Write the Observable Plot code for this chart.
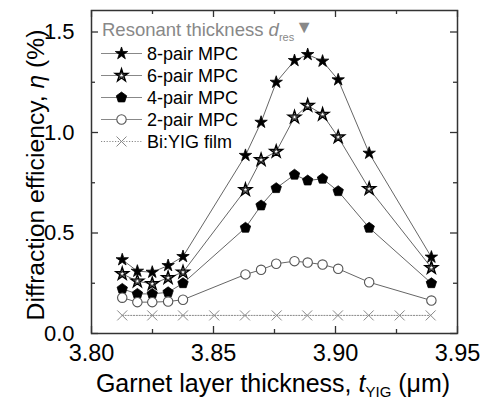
<!DOCTYPE html>
<html><head><meta charset="utf-8">
<script src="https://cdn.jsdelivr.net/npm/d3@7"></script>
<script src="https://cdn.jsdelivr.net/npm/@observablehq/plot@0.6"></script>
<style>
body{margin:0;background:#fff;}
#wrap{position:relative;width:482px;height:400px;}
</style></head><body><div id="wrap"></div>
<script>
// ---- data ----
const thickness = [3.8126, 3.8188, 3.8249, 3.8314, 3.8375, 3.8631, 3.8695, 3.8757, 3.8832, 3.8886, 3.8947, 3.9011, 3.9138, 3.9393];
const pair8 = [0.367, 0.310, 0.305, 0.338, 0.383, 0.886, 1.051, 1.250, 1.358, 1.388, 1.355, 1.262, 0.897, 0.380];
const pair6 = [0.297, 0.260, 0.247, 0.277, 0.305, 0.715, 0.864, 0.905, 1.076, 1.134, 1.090, 0.977, 0.720, 0.327];
const pair4 = [0.222, 0.197, 0.197, 0.205, 0.250, 0.526, 0.637, 0.723, 0.790, 0.761, 0.770, 0.708, 0.526, 0.250];
const pair2 = [0.178, 0.156, 0.156, 0.159, 0.168, 0.294, 0.317, 0.347, 0.360, 0.353, 0.343, 0.322, 0.255, 0.164];
const filmThickness = [3.8126, 3.8249, 3.8375, 3.8503, 3.8629, 3.8759, 3.8884, 3.9010, 3.9136, 3.9263, 3.9390];
const filmEta = [0.09, 0.09, 0.09, 0.09, 0.09, 0.09, 0.09, 0.09, 0.09, 0.09, 0.09];
const seriesNames = ["8-pair MPC", "6-pair MPC", "4-pair MPC", "2-pair MPC", "Bi:YIG film"];
const xTicks = [3.80, 3.85, 3.90, 3.95];
const xMinorTicks = [3.825, 3.875, 3.925];
const yTicks = [0, 0.5, 1.0, 1.5];
const yMinorTicks = [0.25, 0.75, 1.25];
const legendTitle = "Resonant thickness ";
const yTitle = ["Diffraction efficiency, ", "η", " (%)"];
const xTitle = ["Garnet layer thickness, ", "t", "YIG", " (μm)"];

// ---- layout ----
const W = 482, H = 400, mL = 91, mR = 25, mT = 10, mB = 67;
const fw = W - mL - mR, fh = H - mT - mB;
const FONT = "'Liberation Sans', Arial, Helvetica, sans-serif";

const pentagon = {
  draw(ctx, size) {
    const r = Math.sqrt(size / Math.PI) * 1.3;
    for (let i = 0; i < 5; i++) {
      const a = -Math.PI / 2 + i * 2 * Math.PI / 5;
      const x = r * Math.cos(a), y = r * Math.sin(a);
      if (i) ctx.lineTo(x, y); else ctx.moveTo(x, y);
    }
    ctx.closePath();
  }
};

const seriesValues = [pair8, pair6, pair4, pair2];
const rows = seriesValues.flatMap((vals, k) => thickness.map((t, i) => ({series: seriesNames[k], x: t, y: vals[i]})));
const film = filmThickness.map((t, i) => ({series: seriesNames[4], x: t, y: filmEta[i]}));
const bySeries = name => rows.filter(d => d.series === name);

const LINE = "#666";
const styles = [
  {symbol: d3.symbolStar, r: 3.9, fill: "#000", stroke: "#000", sw: 0.8},
  {symbol: d3.symbolStar, r: 4.0, fill: "#fff", stroke: "#000", sw: 1.4, inner: true},
  {symbol: pentagon, r: 4.2, fill: "#000", stroke: "#000", sw: 0.8},
  {symbol: "circle", r: 4.7, fill: "#fff", stroke: "#555", sw: 1.1},
  {symbol: "times", r: 4.6, fill: "none", stroke: "#888", sw: 1.0}
];

const dotMarks = [];
seriesNames.slice(0, 4).forEach((name, k) => {
  const s = styles[k];
  dotMarks.push(Plot.dot(bySeries(name), {x: "x", y: "y", symbol: s.symbol, r: s.r, fill: s.fill, stroke: s.stroke, strokeWidth: s.sw}));
  if (s.inner) dotMarks.push(Plot.dot(bySeries(name), {x: "x", y: "y", symbol: s.symbol, r: 2.0, fill: "none", stroke: "#000", strokeWidth: 0.8}));
});

const TK = 7, TKm = 4, FR = "#333";
const plot = Plot.plot({
  width: W, height: H, marginLeft: mL, marginRight: mR, marginTop: mT, marginBottom: mB,
  style: {fontFamily: FONT, fontSize: "22px", color: "#000", background: "#fff", overflow: "visible"},
  x: {domain: [3.80, 3.95]},
  y: {domain: [0, 1.607]},
  marks: [
    Plot.axisX(xTicks, {tickSize: 0, tickPadding: 11, tickFormat: d => d.toFixed(2), label: null, fontSize: 23.5}),
    Plot.axisY(yTicks, {tickSize: 0, tickPadding: 17, tickFormat: d => d.toFixed(1), label: null, fontSize: 22}),
    // inward ticks on all four sides
    Plot.tickX(xTicks, {x: d => d, insetTop: fh - TK, stroke: FR, strokeWidth: 1.3}),
    Plot.tickX(xTicks, {x: d => d, insetBottom: fh - TK, stroke: FR, strokeWidth: 1.3}),
    Plot.tickX(xMinorTicks, {x: d => d, insetTop: fh - TKm, stroke: FR, strokeWidth: 1.3}),
    Plot.tickX(xMinorTicks, {x: d => d, insetBottom: fh - TKm, stroke: FR, strokeWidth: 1.3}),
    Plot.tickY(yTicks, {y: d => d, insetRight: fw - TK, stroke: FR, strokeWidth: 1.3}),
    Plot.tickY(yTicks, {y: d => d, insetLeft: fw - TK, stroke: FR, strokeWidth: 1.3}),
    Plot.tickY(yMinorTicks, {y: d => d, insetRight: fw - TKm, stroke: FR, strokeWidth: 1.3}),
    Plot.tickY(yMinorTicks, {y: d => d, insetLeft: fw - TKm, stroke: FR, strokeWidth: 1.3}),
    Plot.line(film, {x: "x", y: "y", stroke: "#888", strokeWidth: 1, strokeDasharray: "1.2,1.6"}),
    Plot.line(rows, {x: "x", y: "y", z: "series", stroke: LINE, strokeWidth: 1}),
    Plot.dot(film, {x: "x", y: "y", symbol: "times", r: styles[4].r, stroke: styles[4].stroke, strokeWidth: styles[4].sw}),
    ...dotMarks,
    Plot.frame({stroke: FR, strokeWidth: 1.5})
  ]
});
document.getElementById("wrap").appendChild(plot);

// ---- legend and axis titles (rich text) ----
const svg = d3.select(plot);
const g = svg.append("g").attr("font-family", FONT).attr("text-anchor", "start");
const tt = g.append("text").attr("x", 102).attr("y", 36).attr("font-size", 18.5).attr("fill", "#888").attr("text-anchor", "start");
tt.append("tspan").text(legendTitle);
tt.append("tspan").attr("font-style", "italic").text("d");
tt.append("tspan").attr("font-size", 11).attr("dy", 5).text("res");
tt.append("tspan").attr("font-size", 18).attr("dy", -8).attr("dx", 1).text("▼");

seriesNames.forEach((name, i) => {
  const y = 53.5 + i * 22;
  const s = styles[i];
  g.append("line").attr("x1", 101).attr("x2", 142).attr("y1", y).attr("y2", y)
    .attr("stroke", "#888").attr("stroke-width", 1)
    .attr("stroke-dasharray", i === 4 ? "1.2,1.6" : null);
  const type = s.symbol === "circle" ? d3.symbolCircle : s.symbol === "times" ? d3.symbolTimes : s.symbol;
  g.append("path").attr("transform", `translate(121.5,${y})`)
    .attr("d", d3.symbol(type, Math.PI * s.r * s.r)())
    .attr("fill", s.fill).attr("stroke", s.stroke).attr("stroke-width", s.sw);
  if (s.inner) g.append("path").attr("transform", `translate(121.5,${y})`)
    .attr("d", d3.symbol(type, Math.PI * 4)()).attr("fill", "none").attr("stroke", "#000").attr("stroke-width", 0.8);
  g.append("text").attr("x", 147).attr("y", y + 6.5).attr("font-size", 18).attr("fill", "#000")
    .attr("text-anchor", "start").text(name);
});

const yt = g.append("text").attr("transform", `translate(44,175) rotate(-90)`)
  .attr("text-anchor", "middle").attr("font-size", 24.7).attr("fill", "#000");
yt.append("tspan").text(yTitle[0]);
yt.append("tspan").attr("font-style", "italic").text(yTitle[1]);
yt.append("tspan").text(yTitle[2]);

const xt = g.append("text").attr("x", mL + fw / 2 - 1).attr("y", 392)
  .attr("text-anchor", "middle").attr("font-size", 25).attr("fill", "#000");
xt.append("tspan").text(xTitle[0]);
xt.append("tspan").attr("font-style", "italic").text(xTitle[1]);
xt.append("tspan").attr("font-size", 15).attr("dy", 5).text(xTitle[2]);
xt.append("tspan").attr("dy", -5).text(xTitle[3]);
</script>
</body></html>
